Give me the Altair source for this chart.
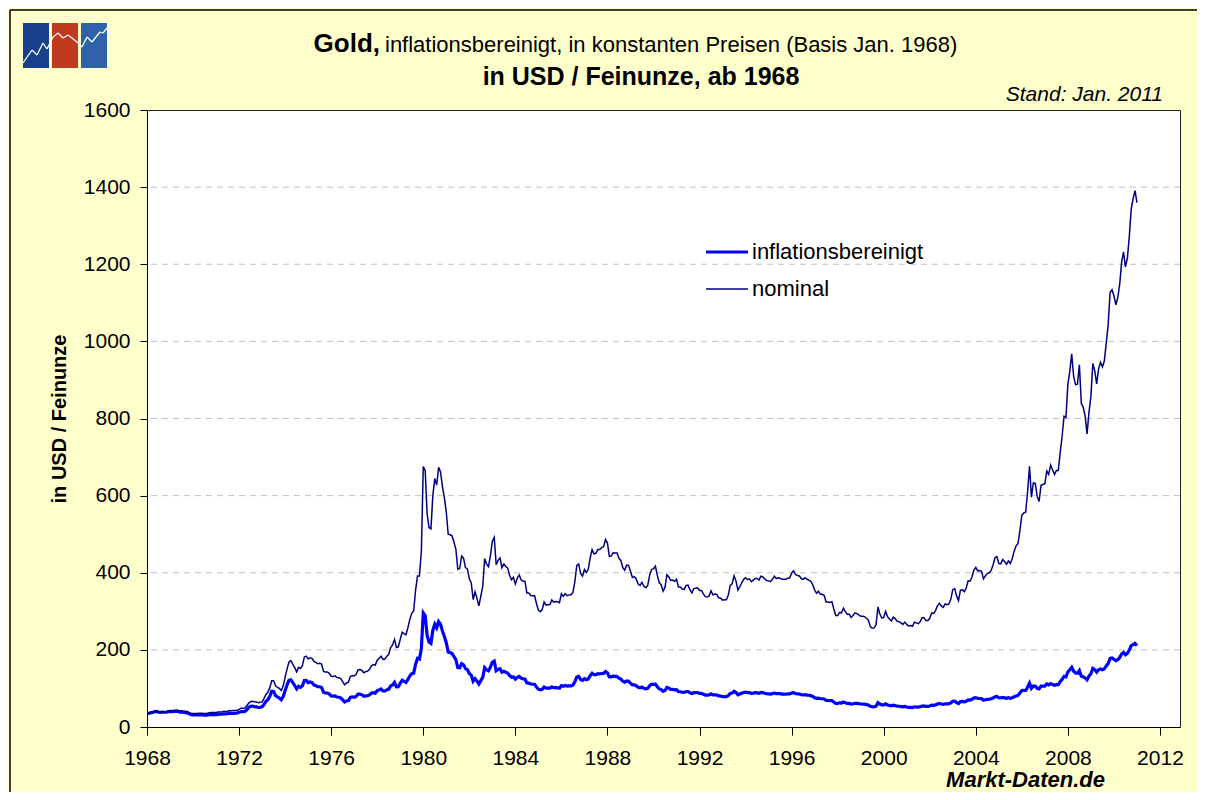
import altair as alt
import pandas as pd

START_YEAR = 1968

# Gold, nominal monthly average price (USD / troy ounce), Jan 1968 - Jan 2011
nominal_1968_1979 = [
    35.0, 35.2, 37.5, 38.0, 40.5, 41.0, 39.5, 39.0, 39.5, 39.5, 39.5, 41.0,
    42.5, 42.3, 43.0, 43.5, 43.5, 41.5, 42.0, 41.0, 40.8, 40.3, 37.5, 35.2,
    34.9, 35.0, 35.1, 35.6, 35.9, 35.4, 35.3, 35.4, 36.2, 37.5, 37.4, 37.4,
    37.9, 38.7, 38.9, 39.0, 40.5, 40.1, 41.0, 42.7, 42.0, 42.5, 42.9, 43.5,
    45.8, 48.3, 48.3, 49.0, 54.6, 62.1, 65.7, 67.0, 65.5, 64.9, 62.9, 63.9,
    65.1, 74.2, 84.4, 90.5, 102.0, 120.1, 120.2, 106.8, 103.0, 100.1, 94.8, 106.7,
    129.2, 150.2, 168.4, 172.2, 163.3, 154.1, 143.0, 154.6, 151.8, 158.8, 181.7, 183.9,
    176.3, 179.6, 178.2, 169.9, 167.4, 164.2, 165.2, 163.1, 144.1, 142.8, 142.8, 139.3,
    131.6, 131.0, 132.6, 128.2, 128.0, 125.6, 117.7, 109.3, 114.2, 116.4, 130.9, 133.7,
    132.3, 136.5, 148.1, 149.3, 146.6, 140.8, 143.4, 144.9, 149.5, 158.7, 162.1, 160.5,
    173.2, 178.2, 183.7, 175.4, 176.3, 183.7, 188.7, 206.1, 212.8, 227.3, 206.2, 207.9,
    227.3, 245.7, 242.1, 239.2, 257.6, 279.1, 294.7, 300.8, 355.2, 391.7, 391.8, 455.1,
]
nominal_1980_1989 = [
    675.3, 665.3, 553.6, 517.4, 513.8, 600.7, 644.3, 627.2, 673.6, 661.2, 623.5, 594.9,
    557.4, 499.8, 498.5, 495.8, 479.7, 460.9, 409.3, 410.9, 443.1, 437.8, 413.4, 410.1,
    384.1, 374.2, 330.7, 350.5, 333.6, 314.0, 339.6, 364.3, 436.8, 422.3, 415.8, 444.3,
    481.0, 491.6, 420.8, 432.2, 438.2, 413.0, 422.8, 416.1, 411.9, 393.6, 381.7, 388.0,
    370.9, 385.8, 394.2, 381.6, 377.7, 377.7, 347.6, 347.7, 341.1, 340.2, 341.0, 320.2,
    303.0, 298.8, 304.4, 324.5, 316.1, 316.8, 317.6, 329.4, 323.6, 325.2, 324.8, 322.3,
    345.4, 339.0, 345.6, 340.5, 342.6, 342.8, 348.9, 376.0, 418.5, 423.1, 397.9, 391.2,
    408.3, 401.1, 408.9, 438.3, 460.1, 449.0, 450.5, 460.2, 460.1, 465.4, 467.6, 486.3,
    477.0, 442.1, 443.6, 451.6, 451.2, 451.1, 437.5, 431.4, 413.4, 406.8, 419.8, 419.2,
    404.0, 388.0, 390.0, 384.0, 371.0, 367.0, 375.0, 365.0, 361.0, 367.0, 394.0, 409.0,
]
nominal_1990_1999 = [
    410, 417, 393, 374, 369, 352, 362, 395, 389, 380, 381, 378,
    383, 363, 363, 358, 357, 367, 368, 356, 348, 359, 360, 361,
    354, 354, 345, 338, 337, 340, 353, 343, 345, 344, 335, 334,
    329, 330, 330, 342, 367, 371, 392, 379, 355, 364, 374, 383,
    387, 382, 384, 377, 381, 385, 385, 381, 391, 389, 384, 380,
    379, 377, 383, 391, 385, 387, 386, 383, 383, 383, 386, 387,
    399, 405, 396, 393, 392, 385, 383, 387, 383, 381, 378, 369,
    355, 347, 352, 344, 344, 341, 324, 324, 323, 325, 306, 289,
    289, 297, 296, 308, 299, 292, 293, 284, 289, 296, 294, 291,
    287, 287, 286, 282, 277, 261, 256, 257, 265, 311, 293, 283,
]
nominal_2000_2011 = [
    284, 300, 286, 280, 275, 285, 281, 274, 273, 270, 266, 272,
    266, 262, 263, 261, 272, 270, 268, 273, 283, 283, 276, 276,
    282, 296, 294, 302, 314, 321, 314, 310, 319, 317, 319, 332,
    356, 359, 340, 328, 355, 356, 351, 360, 379, 378, 389, 407,
    414, 405, 406, 404, 384, 392, 398, 400, 406, 420, 439, 442,
    424, 423, 434, 429, 422, 431, 424, 437, 456, 470, 476, 510,
    549, 555, 557, 610, 676, 596, 633, 632, 598, 585, 627, 629,
    631, 664, 655, 679, 667, 655, 665, 665, 712, 754, 806, 803,
    889, 922, 968, 909, 888, 889, 939, 839, 829, 806, 760, 816,
    858, 943, 924, 890, 928, 946, 934, 949, 996, 1043, 1127, 1134,
    1118, 1095, 1113, 1148, 1205, 1232, 1193, 1215, 1271, 1343, 1370, 1391,
    1360,
]

# Gold, inflation adjusted (constant prices, basis Jan 1968)
real_1968_1979 = [
    35.0, 35.1, 37.2, 37.6, 40.0, 40.3, 38.7, 38.1, 38.4, 38.3, 38.2, 39.5,
    40.4, 40.0, 40.5, 40.8, 40.6, 38.6, 38.9, 37.7, 37.4, 36.8, 34.1, 31.8,
    31.4, 31.4, 31.3, 31.6, 31.7, 31.2, 30.9, 30.9, 31.4, 32.4, 32.2, 32.1,
    32.3, 32.9, 33.0, 33.0, 34.2, 33.8, 34.5, 35.8, 35.1, 35.4, 35.7, 36.1,
    38.0, 39.9, 39.8, 40.3, 44.7, 50.7, 53.5, 54.4, 53.0, 52.4, 50.6, 51.2,
    52.1, 58.9, 66.6, 70.9, 79.4, 92.7, 92.1, 81.3, 77.8, 75.0, 70.5, 78.7,
    94.6, 108.9, 120.9, 122.4, 115.1, 107.6, 98.8, 105.7, 102.8, 106.6, 120.7, 120.8,
    115.3, 116.9, 115.3, 109.2, 107.1, 104.4, 104.4, 102.6, 90.1, 88.7, 88.3, 85.5,
    80.7, 80.0, 80.6, 77.7, 77.2, 75.5, 70.4, 65.1, 67.7, 68.8, 77.0, 78.3,
    77.1, 79.0, 85.3, 85.5, 83.4, 79.7, 80.7, 81.0, 83.1, 87.8, 89.2, 87.8,
    94.2, 96.2, 98.5, 93.3, 93.3, 96.4, 98.3, 106.6, 109.2, 115.7, 104.3, 104.4,
    113.4, 121.4, 118.4, 115.8, 123.4, 132.3, 138.2, 139.6, 163.0, 178.2, 176.3, 202.5,
]
real_1980_1989 = [
    295.8, 288.7, 238.0, 220.4, 216.8, 251.1, 266.7, 257.2, 273.5, 266.5, 248.8, 235.0,
    218.5, 194.4, 192.9, 190.4, 182.8, 174.7, 153.9, 153.3, 164.4, 161.1, 151.3, 148.9,
    139.0, 134.7, 118.7, 125.5, 119.1, 111.5, 120.2, 128.6, 153.8, 148.2, 145.5, 155.1,
    167.9, 171.1, 146.0, 149.5, 151.2, 142.1, 144.6, 141.9, 140.0, 133.4, 129.0, 130.4,
    124.3, 128.9, 131.3, 126.7, 125.0, 124.6, 114.4, 114.0, 111.5, 110.9, 110.8, 103.7,
    97.9, 96.2, 97.7, 103.8, 100.8, 100.7, 100.7, 104.1, 101.9, 102.1, 101.7, 100.6,
    107.4, 105.4, 107.8, 106.2, 106.5, 106.6, 108.5, 116.9, 129.7, 131.2, 123.0, 120.9,
    125.3, 122.7, 124.7, 133.2, 139.4, 135.6, 135.6, 138.1, 137.6, 138.7, 138.9, 143.9,
    140.7, 130.0, 130.0, 131.9, 131.3, 130.8, 126.4, 124.2, 118.6, 116.3, 119.6, 118.6,
    113.9, 109.0, 109.2, 107.1, 103.1, 101.7, 103.5, 100.4, 98.9, 100.2, 107.2, 110.8,
]
real_1990_1999 = [
    109.9, 111.3, 104.5, 98.7, 97.0, 92.2, 94.5, 102.7, 100.8, 97.7, 97.5, 96.4,
    96.9, 91.8, 91.5, 90.2, 89.6, 91.8, 92.0, 88.6, 86.7, 89.0, 89.3, 89.2,
    87.4, 87.1, 84.9, 82.8, 82.6, 83.0, 85.8, 83.3, 83.5, 82.9, 80.7, 80.2,
    78.6, 78.9, 78.5, 81.4, 87.0, 87.9, 92.5, 89.4, 83.4, 85.5, 87.5, 89.6,
    90.2, 89.0, 89.1, 87.5, 88.0, 88.9, 88.6, 87.6, 89.5, 89.1, 87.6, 86.6,
    86.0, 85.2, 86.6, 88.0, 86.6, 86.7, 86.5, 85.4, 85.4, 85.0, 85.7, 85.9,
    88.2, 89.1, 86.7, 86.1, 85.5, 83.9, 83.1, 84.0, 82.7, 82.3, 81.3, 79.3,
    76.0, 74.3, 75.0, 73.3, 73.3, 72.6, 68.7, 68.7, 68.5, 68.6, 64.6, 61.0,
    61.0, 62.7, 62.2, 64.7, 62.8, 61.0, 61.2, 59.4, 60.4, 61.6, 61.2, 60.5,
    59.7, 59.4, 59.2, 58.1, 57.1, 53.5, 52.5, 52.4, 54.1, 63.1, 59.5, 57.4,
]
real_2000_2011 = [
    57.4, 60.3, 57.2, 56.0, 54.7, 56.4, 55.6, 54.0, 53.8, 52.9, 52.1, 53.3,
    51.9, 50.8, 51.0, 50.4, 52.2, 51.8, 51.7, 52.7, 54.3, 54.6, 53.3, 53.3,
    54.4, 56.8, 56.2, 57.4, 59.7, 61.0, 59.7, 58.6, 60.3, 59.9, 60.3, 62.7,
    66.9, 67.1, 63.2, 61.0, 66.0, 66.2, 65.3, 66.6, 70.1, 69.9, 72.0, 75.3,
    76.2, 74.1, 73.9, 73.5, 69.5, 70.6, 71.6, 72.0, 73.1, 75.2, 78.6, 79.1,
    75.9, 75.3, 76.8, 75.5, 74.3, 75.9, 74.2, 76.0, 78.4, 80.4, 81.9, 88.2,
    94.4, 94.9, 94.7, 103.1, 113.6, 100.1, 106.3, 105.5, 100.5, 98.9, 106.0, 106.3,
    106.0, 111.6, 109.4, 112.7, 110.1, 108.1, 109.7, 109.7, 117.5, 123.7, 131.4, 130.1,
    143.1, 148.4, 154.9, 144.5, 140.3, 139.6, 146.5, 131.7, 130.2, 127.3, 122.4, 132.2,
    138.1, 151.8, 148.8, 142.4, 148.5, 150.4, 148.5, 150.9, 158.4, 164.8, 178.1, 179.2,
    175.5, 171.9, 174.7, 180.2, 189.2, 193.4, 187.3, 190.8, 199.5, 210.9, 213.7, 217.0,
    210.8,
]

x_ticks = [1968, 1972, 1976, 1980, 1984, 1988, 1992, 1996, 2000, 2004, 2008, 2012]
y_ticks = [0, 200, 400, 600, 800, 1000, 1200, 1400, 1600]
grid_values = [200, 400, 600, 800, 1000, 1200, 1400]

nominal = nominal_1968_1979 + nominal_1980_1989 + nominal_1990_1999 + nominal_2000_2011
real = real_1968_1979 + real_1980_1989 + real_1990_1999 + real_2000_2011
years = [START_YEAR + i / 12 for i in range(len(nominal))]

df = pd.DataFrame({"year": years, "nominal": nominal, "real": real})
one = pd.DataFrame({"k": [0]})
grid_df = pd.DataFrame({"v": grid_values})

W, H = 1033, 617
FONT = "Liberation Sans"

x_axis = alt.Axis(values=x_ticks, format="d", title=None, grid=False,
                  tickSize=8, tickColor="black", domainColor="black",
                  labelFontSize=21, labelPadding=12, labelColor="black",
                  labelFont=FONT, labelFlush=False)
x_scale = alt.Scale(domain=[1968, 2012.87], nice=False, zero=False)
y_axis = alt.Axis(values=y_ticks, format="d", title="in USD / Feinunze", grid=False,
                  tickSize=7, tickColor="black", domainColor="black",
                  labelFontSize=21, labelPadding=10, labelColor="black",
                  labelFont=FONT, labelFlush=False,
                  titleFont=FONT, titleFontSize=20, titleFontWeight="bold",
                  titleColor="black", titlePadding=14)
y_scale = alt.Scale(domain=[0, 1600], nice=False, zero=True)

# decorative outer frame: only the left and top edges lie inside the picture
frame_top = alt.Chart(one).mark_rule(color="black", strokeWidth=1.5).encode(
    x=alt.value(-137), x2=alt.value(W + 200), y=alt.value(-100))
frame_left = alt.Chart(one).mark_rule(color="black", strokeWidth=1.5).encode(
    x=alt.value(-137), y=alt.value(-100), y2=alt.value(H + 200))

grid = alt.Chart(grid_df).mark_rule(color="#C0C0C0", strokeDash=[6, 5], strokeWidth=1).encode(
    y=alt.Y("v:Q", scale=y_scale, axis=y_axis)
)

line_real = alt.Chart(df).mark_line(color="#0000FF", strokeWidth=3.2).encode(
    x=alt.X("year:Q", scale=x_scale, axis=x_axis),
    y=alt.Y("real:Q", scale=y_scale, axis=y_axis),
)
line_nom = alt.Chart(df).mark_line(color="#000080", strokeWidth=1.5).encode(
    x=alt.X("year:Q", scale=x_scale, axis=x_axis),
    y=alt.Y("nominal:Q", scale=y_scale, axis=y_axis),
)

# legend
leg_rule1 = alt.Chart(one).mark_rule(color="#0000FF", strokeWidth=3).encode(
    x=alt.value(559), x2=alt.value(601), y=alt.value(142))
leg_rule2 = alt.Chart(one).mark_rule(color="#000080", strokeWidth=1.5).encode(
    x=alt.value(559), x2=alt.value(601), y=alt.value(179))
leg_text1 = alt.Chart(one).mark_text(align="left", baseline="middle", font=FONT, fontSize=22,
                                     color="black").encode(
    x=alt.value(605), y=alt.value(142), text=alt.value("inflationsbereinigt"))
leg_text2 = alt.Chart(one).mark_text(align="left", baseline="middle", font=FONT, fontSize=22,
                                     color="black").encode(
    x=alt.value(605), y=alt.value(179), text=alt.value("nominal"))

# titles
t_gold = alt.Chart(one).mark_text(align="right", baseline="middle", font=FONT, fontSize=26,
                                  fontWeight="bold", color="black").encode(
    x=alt.value(233), y=alt.value(-66), text=alt.value("Gold,"))
t_rest = alt.Chart(one).mark_text(align="left", baseline="middle", font=FONT, fontSize=22,
                                  color="black").encode(
    x=alt.value(238), y=alt.value(-65),
    text=alt.value("inflationsbereinigt, in konstanten Preisen (Basis Jan. 1968)"))
t_line2 = alt.Chart(one).mark_text(align="center", baseline="middle", font=FONT, fontSize=25,
                                   fontWeight="bold", color="black").encode(
    x=alt.value(494), y=alt.value(-33), text=alt.value("in USD / Feinunze, ab 1968"))
t_stand = alt.Chart(one).mark_text(align="right", baseline="middle", font=FONT, fontSize=21,
                                   fontStyle="italic", color="black").encode(
    x=alt.value(1016), y=alt.value(-15), text=alt.value("Stand: Jan. 2011"))
t_src = alt.Chart(one).mark_text(align="right", baseline="middle", font=FONT, fontSize=22,
                                 fontStyle="italic", fontWeight="bold", color="black").encode(
    x=alt.value(958), y=alt.value(670), text=alt.value("Markt-Daten.de"))

# small logo (three coloured tiles with a white zig-zag)
logo_layers = []
for (x0, x1, col) in [(-124, -98, "#173F8A"), (-95, -69, "#BF3A1F"), (-66, -40, "#2F62A6")]:
    logo_layers.append(alt.Chart(one).mark_rect(fill=col).encode(
        x=alt.value(x0), x2=alt.value(x1), y=alt.value(-87), y2=alt.value(-42)))
zz = [(-124, -47), (-115, -60), (-110, -55), (-104, -67), (-100, -61), (-94, -73),
      (-89, -77), (-84, -72), (-79, -75), (-70, -68), (-65, -63), (-60, -73),
      (-55, -68), (-47, -78), (-44, -77), (-40, -82)]
for (a, b) in zip(zz[:-1], zz[1:]):
    logo_layers.append(alt.Chart(one).mark_rule(color="white", strokeWidth=1.3).encode(
        x=alt.value(a[0]), y=alt.value(a[1]), x2=alt.value(b[0]), y2=alt.value(b[1])))

chart = alt.layer(
    frame_top, frame_left, grid, line_real, line_nom,
    leg_rule1, leg_rule2, leg_text1, leg_text2,
    t_gold, t_rest, t_line2, t_stand, t_src, *logo_layers
).properties(
    width=W, height=H,
    autosize=alt.AutoSizeParams(type="none"),
    padding={"left": 139, "top": 102, "right": 17, "bottom": 65},
).configure(
    background="#FFFFCC",
).configure_view(
    fill="white", stroke="#222222", strokeWidth=1
)

chart.save("out.html", embed_options={"renderer": "svg", "actions": False})
